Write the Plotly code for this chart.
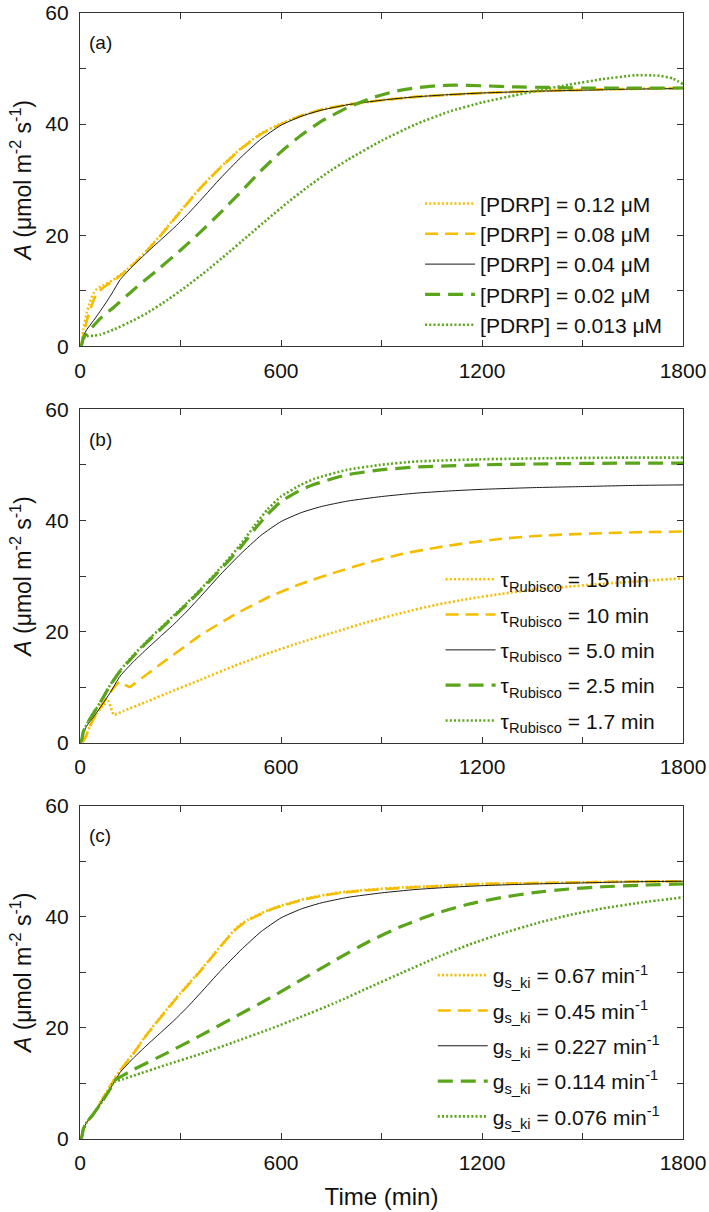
import plotly.graph_objects as go
from plotly.subplots import make_subplots

YELLOW = "#F5BD00"
GREEN = "#5AA51A"
BLACK = "#1a1a1a"

# ---------------- shared reference curve (black, middle setting) ----------------
t_base = [0, 5, 10, 20, 40, 60, 90, 120, 160, 200, 240, 280, 320, 360, 420, 480, 540,
          600, 660, 720, 800, 900, 1000, 1100, 1200, 1350, 1500, 1650, 1800]
A_base = [0, 0.3, 1.8, 3.0, 4.6, 6.3, 9.0, 12.0, 14.6, 16.9, 19.1, 21.3, 23.7, 26.3, 30.3,
          34.0, 37.3, 39.8, 41.4, 42.5, 43.5, 44.3, 44.9, 45.3, 45.6, 45.9, 46.1, 46.3, 46.4]

# ---------------- panel (a): [PDRP] ----------------
t_a012 = [0, 5, 10, 20, 30, 40, 50, 70, 100, 130, 160, 200, 240, 280, 320, 360, 420, 480,
          540, 600, 660, 720, 800, 900, 1000, 1200, 1400, 1600, 1800]
A_a012 = [0, 0.5, 3.0, 6.0, 8.0, 9.5, 10.3, 11.0, 12.0, 13.3, 14.9, 17.3, 20.0, 22.9, 25.8,
          28.6, 32.3, 35.6, 38.3, 40.1, 41.5, 42.6, 43.5, 44.3, 44.9, 45.6, 46.0, 46.3, 46.5]
t_a008 = [0, 5, 10, 20, 30, 40, 50, 70, 100, 130, 160, 200, 240, 280, 320, 360, 420, 480,
          540, 600, 660, 720, 800, 900, 1000, 1200, 1400, 1600, 1800]
A_a008 = [0, 0.4, 2.0, 4.5, 6.5, 8.2, 9.5, 10.6, 11.8, 13.2, 14.8, 17.2, 19.9, 22.8, 25.7,
          28.5, 32.2, 35.5, 38.2, 40.0, 41.5, 42.6, 43.5, 44.3, 44.9, 45.6, 46.0, 46.3, 46.5]
t_a002 = [0, 5, 10, 30, 60, 100, 160, 240, 300, 360, 420, 480, 540, 600, 660, 720, 800, 870,
          940, 1000, 1060, 1120, 1200, 1300, 1400, 1500, 1600, 1700, 1800]
A_a002 = [0, 0.3, 1.5, 3.0, 5.0, 7.0, 10.2, 14.2, 17.3, 20.6, 24.1, 27.8, 31.6, 35.0, 38.0,
          40.5, 43.0, 44.7, 45.9, 46.5, 46.9, 47.0, 46.9, 46.7, 46.6, 46.5, 46.5, 46.5, 46.5]
t_a0013 = [0, 5, 10, 20, 40, 60, 100, 160, 200, 260, 320, 380, 440, 500, 560, 620, 680, 740,
           800, 900, 1000, 1100, 1200, 1300, 1380, 1460, 1560, 1660, 1730, 1770, 1800]
A_a0013 = [0, 0.3, 1.3, 1.8, 1.9, 2.1, 3.0, 4.7, 6.0, 8.3, 10.9, 13.7, 16.7, 19.8, 22.9, 25.9,
           28.7, 31.3, 33.6, 37.0, 39.9, 42.2, 43.9, 45.2, 46.2, 47.1, 48.1, 48.8, 48.7, 48.2,
           47.2]

# ---------------- panel (b): tau_Rubisco ----------------
t_b15 = [0, 5, 15, 30, 50, 70, 85, 95, 101, 130, 200, 260, 359, 460, 567, 656, 765, 864, 964,
         1062, 1162, 1260, 1361, 1460, 1560, 1680, 1800]
A_b15 = [0, 0, 0.8, 3.0, 5.2, 6.8, 7.4, 5.8, 5.0, 5.7, 7.4, 8.9, 11.3, 13.8, 16.2, 18.0, 20.0,
         21.8, 23.4, 24.8, 25.9, 26.8, 27.6, 28.1, 28.6, 29.1, 29.6]
t_b10 = [0, 5, 15, 30, 50, 70, 90, 110, 120, 135, 148, 160, 200, 260, 359, 460, 567, 656, 765,
         864, 964, 1062, 1162, 1260, 1361, 1460, 1560, 1680, 1800]
A_b10 = [0, 0, 0.8, 3.0, 5.3, 7.2, 9.0, 10.5, 11.0, 10.4, 10.0, 10.5, 12.3, 15.0, 19.3, 23.0,
         26.3, 28.5, 30.7, 32.5, 34.0, 35.1, 36.0, 36.7, 37.2, 37.5, 37.7, 37.9, 38.0]
t_b25 = [0, 5, 10, 20, 40, 60, 90, 120, 160, 200, 240, 280, 320, 360, 420, 480, 520, 560, 600,
         656, 700, 796, 896, 1000, 1193, 1400, 1600, 1800]
A_b25 = [0, 0.5, 2.0, 3.3, 5.3, 7.2, 10.3, 12.9, 15.6, 18.1, 20.4, 22.7, 25.0, 27.4, 31.2,
         35.2, 38.3, 41.1, 43.4, 45.4, 46.5, 48.2, 49.1, 49.6, 50.0, 50.2, 50.3, 50.3]
t_b17 = [0, 5, 10, 20, 40, 60, 90, 120, 160, 200, 240, 280, 320, 360, 420, 480, 520, 560, 600,
         656, 700, 796, 896, 1000, 1193, 1400, 1600, 1800]
A_b17 = [0, 0.5, 2.0, 3.3, 5.3, 7.2, 10.4, 13.0, 15.8, 18.3, 20.6, 22.9, 25.2, 27.6, 31.5,
         35.7, 39.0, 42.0, 44.3, 46.3, 47.5, 49.1, 50.0, 50.6, 51.0, 51.2, 51.3, 51.3]

# ---------------- panel (c): g_s_ki ----------------
t_c067 = [0, 5, 10, 20, 40, 60, 90, 120, 160, 200, 260, 300, 359, 400, 440, 470, 500, 540,
          570, 600, 656, 700, 765, 864, 964, 1100, 1193, 1400, 1600, 1800]
A_c067 = [0, 0.5, 1.8, 3.0, 4.5, 6.5, 9.5, 12.4, 15.5, 18.9, 23.4, 26.3, 30.3, 33.3, 36.2,
          38.2, 39.4, 40.6, 41.4, 42.0, 43.0, 43.6, 44.3, 44.9, 45.3, 45.6, 45.9, 46.1, 46.3,
          46.4]
t_c045 = [0, 5, 10, 20, 40, 60, 90, 120, 160, 200, 260, 300, 359, 400, 440, 470, 500, 540,
          570, 600, 656, 700, 765, 864, 964, 1100, 1193, 1400, 1600, 1800]
A_c045 = [0, 0.5, 1.8, 3.0, 4.5, 6.5, 9.5, 12.3, 15.4, 18.8, 23.3, 26.2, 30.2, 33.2, 36.1,
          38.0, 39.3, 40.5, 41.3, 41.9, 42.9, 43.5, 44.2, 44.8, 45.2, 45.6, 45.9, 46.1, 46.3,
          46.4]
t_c0114 = [0, 5, 10, 20, 40, 60, 90, 105, 130, 160, 260, 359, 460, 567, 656, 765, 864, 964,
           1062, 1162, 1260, 1361, 1460, 1560, 1680, 1800]
A_c0114 = [0, 0.3, 1.8, 3.0, 4.5, 6.2, 9.0, 10.6, 11.5, 12.5, 15.5, 18.6, 21.9, 25.4, 28.5,
           32.3, 35.6, 38.4, 40.6, 42.3, 43.5, 44.4, 45.0, 45.4, 45.7, 45.9]
t_c0076 = [0, 5, 10, 20, 40, 60, 90, 100, 130, 160, 260, 359, 458, 567, 656, 765, 864, 964,
           1062, 1162, 1260, 1361, 1460, 1560, 1680, 1800]
A_c0076 = [0, 0.3, 1.8, 3.0, 4.5, 6.2, 9.0, 10.2, 10.8, 11.4, 13.4, 15.3, 17.4, 19.8, 21.9,
           24.6, 27.3, 30.0, 32.6, 35.0, 37.0, 38.8, 40.3, 41.5, 42.6, 43.5]

# ---------------- legend labels ----------------
labels_a = ["[PDRP] = 0.12 μM", "[PDRP] = 0.08 μM", "[PDRP] = 0.04 μM",
            "[PDRP] = 0.02 μM", "[PDRP] = 0.013 μM"]
labels_b = ["τ<sub>Rubisco</sub> = 15 min", "τ<sub>Rubisco</sub> = 10 min",
            "τ<sub>Rubisco</sub> = 5.0 min", "τ<sub>Rubisco</sub> = 2.5 min",
            "τ<sub>Rubisco</sub> = 1.7 min"]
labels_c = ["g<sub>s_ki</sub> = 0.67 min<sup>-1</sup>", "g<sub>s_ki</sub> = 0.45 min<sup>-1</sup>",
            "g<sub>s_ki</sub> = 0.227 min<sup>-1</sup>", "g<sub>s_ki</sub> = 0.114 min<sup>-1</sup>",
            "g<sub>s_ki</sub> = 0.076 min<sup>-1</sup>"]
panel_tags = ["(a)", "(b)", "(c)"]

# styles: yellow dotted, yellow dashed, black solid, green dashed, green dotted
styles = [
    dict(color=YELLOW, width=2.6, dash="2px,2.2px"),
    dict(color=YELLOW, width=2.6, dash="13px,7px"),
    dict(color=BLACK, width=1.0, dash="solid"),
    dict(color=GREEN, width=3.2, dash="15px,8px"),
    dict(color=GREEN, width=2.6, dash="2px,2.2px"),
]

panels = [
    ([(t_a012, A_a012), (t_a008, A_a008), (t_base, A_base), (t_a002, A_a002), (t_a0013, A_a0013)], labels_a),
    ([(t_b15, A_b15), (t_b10, A_b10), (t_base, A_base), (t_b25, A_b25), (t_b17, A_b17)], labels_b),
    ([(t_c067, A_c067), (t_c045, A_c045), (t_base, A_base), (t_c0114, A_c0114), (t_c0076, A_c0076)], labels_c),
]

fig = make_subplots(rows=3, cols=1, vertical_spacing=63 / 1126)

legend_names = ["legend", "legend2", "legend3"]
for r, (series, labels) in enumerate(panels, start=1):
    for i, ((tt, aa), lab, st) in enumerate(zip(series, labels, styles)):
        fig.add_trace(go.Scatter(x=tt, y=aa, mode="lines", name=lab,
                                 line=dict(color=st["color"], width=st["width"], dash=st["dash"],
                                           shape="spline", smoothing=0.5),
                                 legend=legend_names[r - 1], legendgroup=f"p{r}s{i}",
                                 hoverinfo="skip"),
                      row=r, col=1)

FONT = "Liberation Sans, Arial, sans-serif"
TICKC = "#333333"
axis_common = dict(showline=True, mirror="ticks", linecolor=TICKC, linewidth=1.3,
                   ticks="inside", ticklen=6, tickwidth=1.2, tickcolor=TICKC,
                   showgrid=False, zeroline=False, automargin=False,
                   ticklabeloverflow="allow",
                   tickfont=dict(family=FONT, size=21, color="#111111"))

for r in range(1, 4):
    fig.update_xaxes(range=[0, 1800], tick0=0, dtick=600,
                     minor=dict(ticks="inside", dtick=300, ticklen=6, tickwidth=1.2,
                                tickcolor=TICKC, showgrid=False),
                     ticklabelstandoff=5, row=r, col=1, **axis_common)
    fig.update_yaxes(range=[0, 60], tick0=0, dtick=20,
                     minor=dict(ticks="inside", dtick=10, ticklen=6, tickwidth=1.2,
                                tickcolor=TICKC, showgrid=False),
                     ticklabelstandoff=6, row=r, col=1,
                     title=dict(text="<i>A</i> (μmol m<sup>-2</sup> s<sup>-1</sup>)",
                                font=dict(family=FONT, size=23, color="#111111"), standoff=7),
                     **axis_common)
    xref = "x domain" if r == 1 else f"x{r} domain"
    yref = "y domain" if r == 1 else f"y{r} domain"
    fig.add_annotation(text=panel_tags[r - 1], xref=xref, yref=yref, x=0.012, y=0.91,
                       xanchor="left", yanchor="middle", showarrow=False,
                       font=dict(family=FONT, size=19, color="#111111"))

fig.update_xaxes(title=dict(text="Time (min)", font=dict(family=FONT, size=24, color="#111111"),
                            standoff=14), row=3, col=1)

leg_common = dict(bgcolor="rgba(0,0,0,0)", borderwidth=0, itemwidth=50,
                  font=dict(family=FONT, size=21, color="#111111"),
                  xanchor="left", yanchor="top")
fig.update_layout(
    width=709, height=1212,
    margin=dict(l=80, r=26, t=13, b=73),
    plot_bgcolor="white", paper_bgcolor="white",
    showlegend=True,
    legend=dict(x=0.564, y=0.8487, tracegroupgap=0, **leg_common),
    legend2=dict(x=0.598, y=0.515, tracegroupgap=5, **leg_common),
    legend3=dict(x=0.585, y=0.1634, tracegroupgap=5, **leg_common),
)

# remove the browser's default 8 px page margin so the figure fills the window exactly
fig.write_html("out.html", config={"displayModeBar": False},
               post_script="document.body.style.margin='0';document.body.style.overflow='hidden';")
